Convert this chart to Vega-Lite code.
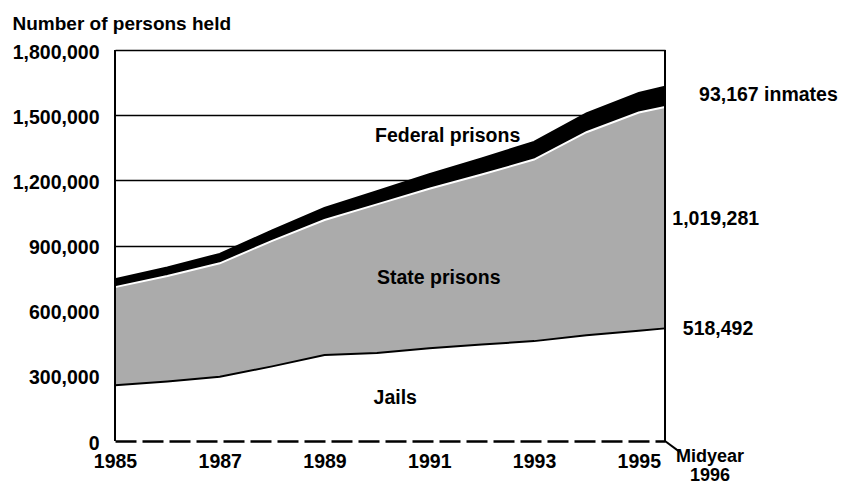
{
  "$schema": "https://vega.github.io/schema/vega-lite/v6.json",
  "width": 550,
  "height": 391,
  "autosize": {"type": "none"},
  "padding": {"left": 115, "top": 50, "right": 180, "bottom": 47},
  "background": "white",
  "config": {
    "font": "Liberation Sans",
    "view": {"stroke": null},
    "text": {"font": "Liberation Sans", "fontWeight": "bold", "fontSize": 19.5, "color": "black"},
    "axis": {"labelFont": "Liberation Sans", "labelFontWeight": "bold", "labelFontSize": 19.5, "labelColor": "black", "titleFont": "Liberation Sans", "titleFontWeight": "bold", "titleFontSize": 19, "titleColor": "black"}
  },
  "datasets": {
    "counts": [
      {"year": 1985, "type": "Jails", "rank": 1, "value": 256615},
      {"year": 1985, "type": "State prisons", "rank": 2, "value": 451812},
      {"year": 1985, "type": "Federal prisons", "rank": 3, "value": 35781},
      {"year": 1986, "type": "Jails", "rank": 1, "value": 274444},
      {"year": 1986, "type": "State prisons", "rank": 2, "value": 485000},
      {"year": 1986, "type": "Federal prisons", "rank": 3, "value": 39500},
      {"year": 1987, "type": "Jails", "rank": 1, "value": 295873},
      {"year": 1987, "type": "State prisons", "rank": 2, "value": 522000},
      {"year": 1987, "type": "Federal prisons", "rank": 3, "value": 43500},
      {"year": 1988, "type": "Jails", "rank": 1, "value": 343569},
      {"year": 1988, "type": "State prisons", "rank": 2, "value": 578000},
      {"year": 1988, "type": "Federal prisons", "rank": 3, "value": 48000},
      {"year": 1989, "type": "Jails", "rank": 1, "value": 395553},
      {"year": 1989, "type": "State prisons", "rank": 2, "value": 622000},
      {"year": 1989, "type": "Federal prisons", "rank": 3, "value": 55000},
      {"year": 1990, "type": "Jails", "rank": 1, "value": 405320},
      {"year": 1990, "type": "State prisons", "rank": 2, "value": 684000},
      {"year": 1990, "type": "Federal prisons", "rank": 3, "value": 61000},
      {"year": 1991, "type": "Jails", "rank": 1, "value": 426479},
      {"year": 1991, "type": "State prisons", "rank": 2, "value": 735000},
      {"year": 1991, "type": "Federal prisons", "rank": 3, "value": 66500},
      {"year": 1992, "type": "Jails", "rank": 1, "value": 444584},
      {"year": 1992, "type": "State prisons", "rank": 2, "value": 782000},
      {"year": 1992, "type": "Federal prisons", "rank": 3, "value": 74000},
      {"year": 1993, "type": "Jails", "rank": 1, "value": 459804},
      {"year": 1993, "type": "State prisons", "rank": 2, "value": 836000},
      {"year": 1993, "type": "Federal prisons", "rank": 3, "value": 81000},
      {"year": 1994, "type": "Jails", "rank": 1, "value": 486474},
      {"year": 1994, "type": "State prisons", "rank": 2, "value": 935000},
      {"year": 1994, "type": "Federal prisons", "rank": 3, "value": 87000},
      {"year": 1995, "type": "Jails", "rank": 1, "value": 507044},
      {"year": 1995, "type": "State prisons", "rank": 2, "value": 1005000},
      {"year": 1995, "type": "Federal prisons", "rank": 3, "value": 90000},
      {"year": 1995.5, "type": "Jails", "rank": 1, "value": 518492},
      {"year": 1995.5, "type": "State prisons", "rank": 2, "value": 1019281},
      {"year": 1995.5, "type": "Federal prisons", "rank": 3, "value": 93167}
    ],
    "one": [{}]
  },
  "layer": [
    {
      "data": {"name": "counts"},
      "transform": [
        {"stack": "value", "groupby": ["year"], "sort": [{"field": "rank", "order": "ascending"}], "as": ["v0", "v1"]}
      ],
      "layer": [
        {
          "mark": {"type": "area", "interpolate": "linear"},
          "encoding": {
            "x": {
              "field": "year", "type": "quantitative", "title": null,
              "scale": {"domain": [1985, 1995.5], "nice": false, "zero": false},
              "axis": {
                "values": [1985, 1987, 1989, 1991, 1993, 1995],
                "format": "d", "labelExpr": "format(datum.value, 'd')",
                "ticks": false, "tickSize": 0, "labelPadding": 11, "labelDx": 3,
                "labelFlush": false, "grid": false,
                "domainColor": "black", "domainWidth": 2.5, "domainDash": [21, 6],
                "zindex": 1
              }
            },
            "y": {
              "field": "v1", "type": "quantitative", "title": "Number of persons held",
              "scale": {"domain": [0, 1800000], "nice": false},
              "axis": {
                "values": [0, 300000, 600000, 900000, 1200000, 1500000, 1800000],
                "format": ",", "labelExpr": "format(datum.value, ',')",
                "ticks": false, "tickSize": 0, "labelPadding": 16,
                "labelBaseline": "middle", "labelOffset": 2,
                "domain": false,
                "grid": true, "gridColor": "black", "gridWidth": 1.6,
                "gridOpacity": {"condition": {"test": "datum.value === 0", "value": 0}, "value": 1},
                "titleAngle": 0, "titleAlign": "left", "titleBaseline": "alphabetic",
                "titleX": -103, "titleY": -21
              }
            },
            "y2": {"field": "v0"},
            "fill": {
              "field": "type", "type": "nominal",
              "scale": {"domain": ["Jails", "State prisons", "Federal prisons"], "range": ["#ffffff", "#ababab", "#000000"]},
              "legend": null
            }
          }
        },
        {
          "mark": {"type": "line", "strokeWidth": 2},
          "encoding": {
            "x": {"field": "year", "type": "quantitative", "title": null},
            "y": {"field": "v1", "type": "quantitative", "title": "Number of persons held"},
            "stroke": {
              "field": "type", "type": "nominal",
              "scale": {"domain": ["Jails", "State prisons", "Federal prisons"], "range": ["#000000", "#ffffff", "#000000"]},
              "legend": null
            }
          }
        }
      ]
    },
    {
      "data": {"name": "one"},
      "mark": {"type": "rule", "color": "black", "strokeWidth": 2},
      "encoding": {"x": {"datum": 1985, "type": "quantitative"}}
    },
    {
      "data": {"name": "one"},
      "mark": {"type": "rule", "color": "black", "strokeWidth": 2},
      "encoding": {"x": {"datum": 1995.5, "type": "quantitative"}}
    },
    {
      "data": {"name": "one"},
      "mark": {"type": "rule", "color": "black", "strokeWidth": 2},
      "encoding": {
        "x": {"datum": 1995.5, "type": "quantitative"},
        "x2": {"datum": 1995.78},
        "y": {"datum": 0, "type": "quantitative"},
        "y2": {"datum": -50000}
      }
    },
    {
      "data": {"name": "one"},
      "mark": {"type": "text", "align": "left", "baseline": "middle"},
      "encoding": {
        "x": {"datum": 1996.15, "type": "quantitative"},
        "y": {"datum": 1595000, "type": "quantitative"},
        "text": {"value": "93,167 inmates"}
      }
    },
    {
      "data": {"name": "one"},
      "mark": {"type": "text", "align": "left", "baseline": "middle"},
      "encoding": {
        "x": {"datum": 1995.64, "type": "quantitative"},
        "y": {"datum": 1024000, "type": "quantitative"},
        "text": {"value": "1,019,281"}
      }
    },
    {
      "data": {"name": "one"},
      "mark": {"type": "text", "align": "left", "baseline": "middle"},
      "encoding": {
        "x": {"datum": 1995.84, "type": "quantitative"},
        "y": {"datum": 517000, "type": "quantitative"},
        "text": {"value": "518,492"}
      }
    },
    {
      "data": {"name": "one"},
      "mark": {"type": "text", "align": "center", "baseline": "middle"},
      "encoding": {
        "x": {"datum": 1991.35, "type": "quantitative"},
        "y": {"datum": 1404000, "type": "quantitative"},
        "text": {"value": "Federal prisons"}
      }
    },
    {
      "data": {"name": "one"},
      "mark": {"type": "text", "align": "center", "baseline": "middle"},
      "encoding": {
        "x": {"datum": 1991.18, "type": "quantitative"},
        "y": {"datum": 750000, "type": "quantitative"},
        "text": {"value": "State prisons"}
      }
    },
    {
      "data": {"name": "one"},
      "mark": {"type": "text", "align": "center", "baseline": "middle"},
      "encoding": {
        "x": {"datum": 1990.35, "type": "quantitative"},
        "y": {"datum": 198000, "type": "quantitative"},
        "text": {"value": "Jails"}
      }
    },
    {
      "data": {"name": "one"},
      "mark": {"type": "text", "align": "center", "baseline": "top", "lineBreak": "\n", "lineHeight": 19, "fontSize": 18},
      "encoding": {
        "x": {"datum": 1996.36, "type": "quantitative"},
        "y": {"datum": -30000, "type": "quantitative"},
        "text": {"value": "Midyear\n1996"}
      }
    }
  ]
}
